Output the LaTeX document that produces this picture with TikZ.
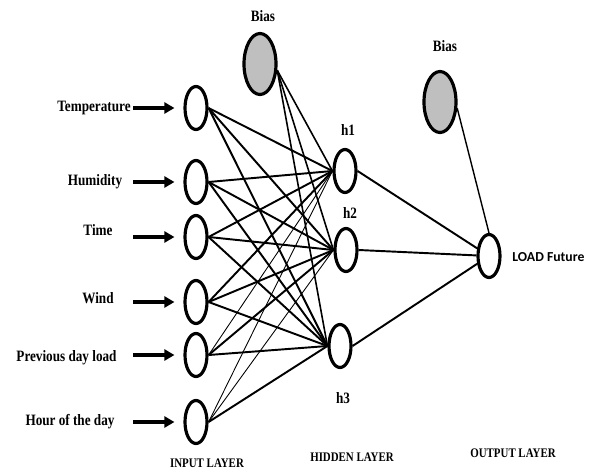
\documentclass[tikz,border=0pt]{standalone}
\usepackage{fontspec}
\setmainfont{Liberation Serif}
\newfontfamily\calibri{Carlito}
\usepackage{tikz}
\usetikzlibrary{shapes.geometric,arrows.meta}

\begin{document}
\begin{tikzpicture}[
    neuron/.style={draw, ellipse, line width=1.8pt, fill=white, inner sep=0pt, minimum width=0.44cm, minimum height=0.86cm},
    bias/.style={neuron, fill=gray!50, minimum width=0.64cm, minimum height=1.22cm},
    lbl/.style={font=\fontsize{7.5}{9}\selectfont\bfseries, inner sep=0pt, yscale=1.2},
    layer/.style={font=\fontsize{6.2}{8}\selectfont\bfseries, inner sep=0pt, yscale=1.2},
    inarrow/.style={line width=2pt, -{Triangle[length=0.2cm,width=0.22cm]}, shorten >=0.18cm},
    link/.style={line width=1.1pt},
    thinlink/.style={line width=0.5pt}]
                    \useasboundingbox (0,0) rectangle (11.8,9.4);

                    % Neurons
                    \node[neuron] (i1) at (3.92,7.24) {};
                    \node[neuron] (i2) at (3.92,5.76) {};
                    \node[neuron] (i3) at (3.92,4.66) {};
                    \node[neuron] (i4) at (3.92,3.36) {};
                    \node[neuron] (i5) at (3.92,2.30) {};
                    \node[neuron] (i6) at (3.92,0.96) {};
                    \node[neuron] (h1) at (6.90,5.98) {};
                    \node[neuron] (h2) at (6.92,4.40) {};
                    \node[neuron] (h3) at (6.80,2.48) {};
                    \node[neuron] (out) at (9.78,4.28) {};
                    \node[bias] (b1) at (5.20,8.12) {};
                    \node[bias] (b2) at (8.80,7.36) {};

                    % Inputs
                    \node[lbl] (l1) at (1.88,7.24) {Temperature};
                    \node[lbl] (l2) at (1.90,5.76) {Humidity};
                    \node[lbl] (l3) at (1.96,4.80) {Time};
                    \node[lbl] (l4) at (1.96,3.44) {Wind};
                    \node[lbl] (l5) at (1.33,2.24) {Previous day load};
                    \node[lbl] (l6) at (1.40,0.96) {Hour of the day};
                    \coordinate (ax) at (2.66,0);
                    \draw[inarrow] (i1.west -| ax) -- (i1.west);
                    \draw[inarrow] (i2.west -| ax) -- (i2.west);
                    \draw[inarrow] (i3.west -| ax) -- (i3.west);
                    \draw[inarrow] (i4.west -| ax) -- (i4.west);
                    \draw[inarrow] (i5.west -| ax) -- (i5.west);
                    \draw[inarrow] (i6.west -| ax) -- (i6.west);

                    % Labels
                    \node[lbl] (t1) at (5.26,9.08) {Bias};
                    \node[lbl] (t2) at (8.90,8.48) {Bias};
                    \node[lbl] (th1) at (6.96,6.80) {h1};
                    \node[lbl] (th2) at (7.00,5.14) {h2};
                    \node[lbl] (th3) at (6.86,1.44) {h3};
                    \node[font=\fontsize{7.8}{9}\selectfont\calibri\bfseries, inner sep=0pt, anchor=west] (tout) at (10.24,4.26) {LOAD Future};
                    \node[layer] (inl) at (4.14,0.14) {INPUT LAYER};
                    \node[layer] (hidl) at (7.04,0.26) {HIDDEN LAYER};
                    \node[layer] (outl) at (10.26,0.34) {OUTPUT LAYER};

                    % Input to hidden
                    \draw[link] (i1.east) -- (h1.west);
                    \draw[link] (i1.east) -- (h2.west);
                    \draw[link] (i1.east) -- (h3.west);
                    \draw[link] (i2.east) -- (h1.west);
                    \draw[link] (i2.east) -- (h2.west);
                    \draw[link] (i2.east) -- (h3.west);
                    \draw[link] (i3.east) -- (h1.west);
                    \draw[link] (i3.east) -- (h2.west);
                    \draw[link] (i3.east) -- (h3.west);
                    \draw[link] (i4.east) -- (h1.west);
                    \draw[link] (i4.east) -- (h2.west);
                    \draw[link] (i4.east) -- (h3.west);
                    \draw[thinlink] (i5.east) -- (h1.west);
                    \draw[link] (i5.east) -- (h2.west);
                    \draw[link] (i5.east) -- (h3.west);
                    \draw[thinlink] (i6.east) -- (h1.west);
                    \draw[thinlink] (i6.east) -- (h2.west);
                    \draw[link] (i6.east) -- (h3.west);

                    % Bias to hidden
                    \draw[line width=0.9pt] (b1.-20) -- (h1.west);
                    \draw[line width=0.9pt] (b1.-20) -- (h2.west);
                    \draw[line width=0.9pt] (b1.-20) -- (h3.west);

                    % Hidden to output
                    \draw[link] (h1.east) -- (out);
                    \draw[link] (h2.east) -- (out);
                    \draw[link] (h3.east) -- (out);
                    \draw[line width=0.8pt] (b2.-20) -- (out.north);
                \end{tikzpicture}
\end{document}
